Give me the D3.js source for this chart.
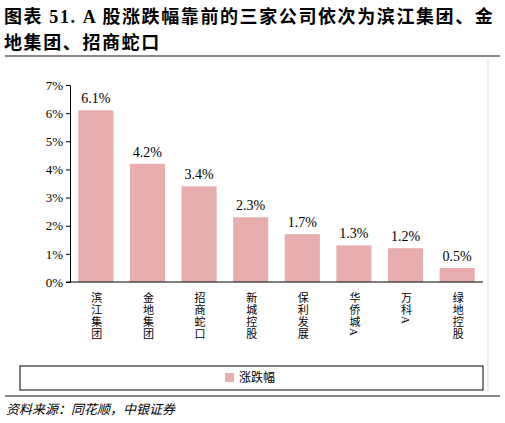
<!DOCTYPE html><html><head><meta charset="utf-8"><script src="https://cdn.jsdelivr.net/npm/d3@7"></script>
<style>body{margin:0;background:#fff}text{font-family:"Liberation Serif","Noto Sans CJK SC",serif}</style></head><body><svg id="c" width="505" height="423"></svg>
<script>
const categories=["滨江集团","金地集团","招商蛇口","新城控股","保利发展","华侨城A","万科A","绿地控股"];
const values=[6.1,4.2,3.4,2.3,1.7,1.3,1.2,0.5];
const yTicks=[0,1,2,3,4,5,6,7];
const svg=d3.select("#c");
const color="#e8aeae";
svg.append("text").attr("x",4).attr("y",23).attr("font-size",18).attr("font-weight","bold").attr("letter-spacing","1.6px").attr("font-family","'Liberation Serif','Noto Sans CJK SC'").text("图表 51. A 股涨跌幅靠前的三家公司依次为滨江集团、金");
svg.append("text").attr("x",4).attr("y",49).attr("font-size",18).attr("font-weight","bold").attr("letter-spacing","1.6px").attr("font-family","'Noto Sans CJK SC'").text("地集团、招商蛇口");
svg.append("line").attr("x1",5).attr("x2",500).attr("y1",56).attr("y2",56).attr("stroke","#888").attr("stroke-width",2);
svg.append("line").attr("x1",488).attr("x2",488).attr("y1",60).attr("y2",392).attr("stroke","#ddd");
const x=d3.scaleBand().domain(categories).range([70,483]).paddingInner(0.32).paddingOuter(0.16);
const y=d3.scaleLinear().domain([0,7]).range([282,85]);
svg.selectAll(".b").data(values).join("rect").attr("x",(d,i)=>x(categories[i])).attr("width",x.bandwidth()).attr("y",d=>y(d)).attr("height",d=>y(0)-y(d)).attr("fill",color);
svg.selectAll(".v").data(values).join("text").attr("x",(d,i)=>x(categories[i])+x.bandwidth()/2).attr("y",d=>y(d)-7).attr("text-anchor","middle").attr("font-size",14).text(d=>d.toFixed(1)+"%");
const ya=svg.append("g").attr("transform","translate(70,0)").call(d3.axisLeft(y).tickValues(yTicks).tickFormat(d=>d+"%").tickSize(4));
ya.select(".domain").attr("stroke","#000");ya.selectAll("text").attr("font-size",13).attr("font-family","'Liberation Serif'").attr("fill","#000");
svg.append("line").attr("x1",66).attr("x2",483).attr("y1",282).attr("y2",282).attr("stroke","#000");
svg.selectAll(".xl").data(categories).join("text").attr("x",d=>x(d)+x.bandwidth()/2).attr("y",292).attr("font-size",11).attr("font-family","'Noto Sans CJK SC'").style("writing-mode","vertical-rl").style("letter-spacing","1px").text(d=>d);
svg.append("rect").attr("x",20).attr("y",366).attr("width",463).attr("height",24).attr("fill","none").attr("stroke","#000");
svg.append("rect").attr("x",225).attr("y",373).attr("width",9).attr("height",9).attr("fill",color);
svg.append("text").attr("x",239).attr("y",382).attr("font-size",12).attr("font-family","'Noto Sans CJK SC'").text("涨跌幅");
svg.append("line").attr("x1",5).attr("x2",500).attr("y1",396).attr("y2",396).attr("stroke","#888").attr("stroke-width",2);
svg.append("text").attr("x",6).attr("y",414).attr("font-size",13).attr("font-style","italic").attr("font-family","'Noto Sans CJK SC'").text("资料来源：同花顺，中银证券");
</script></body></html>
